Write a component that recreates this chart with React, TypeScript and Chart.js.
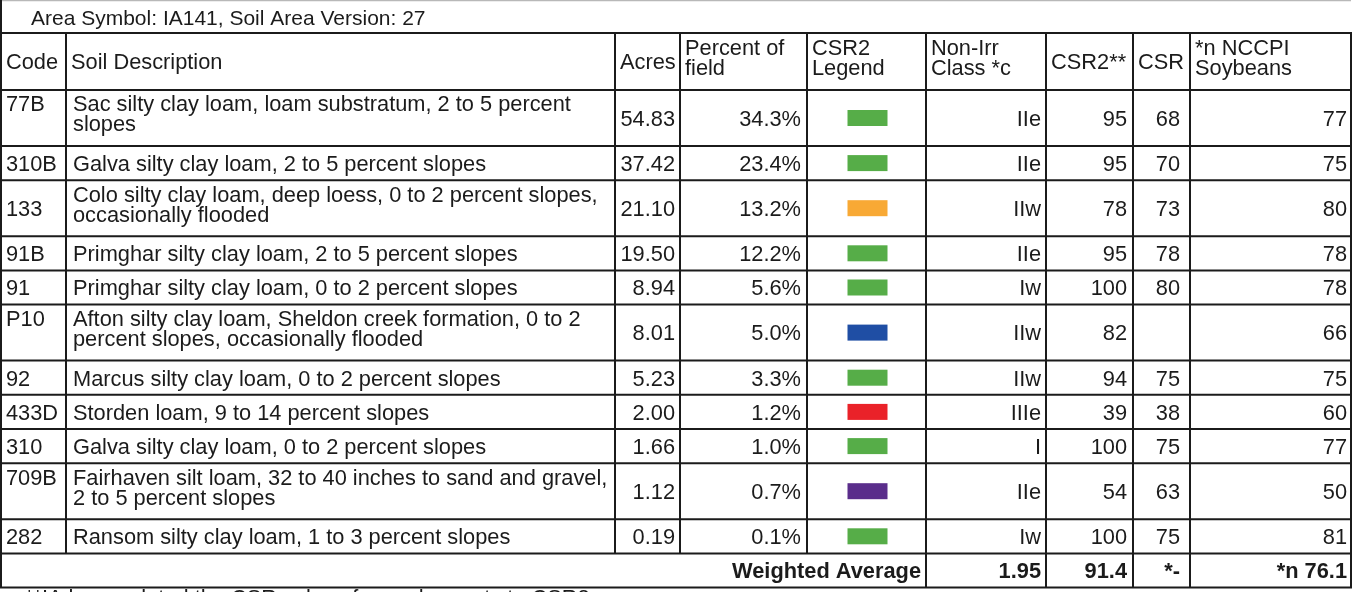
import React, { useEffect, useRef } from "react";
import { Chart, registerables } from "chart.js";

Chart.register(...registerables);

// ---------- data ----------
const title = "Area Symbol: IA141, Soil Area Version: 27";
const headers: string[][] = [
  ["Code"],
  ["Soil Description"],
  ["Acres"],
  ["Percent of", "field"],
  ["CSR2", "Legend"],
  ["Non-Irr", "Class *c"],
  ["CSR2**"],
  ["CSR"],
  ["*n NCCPI", "Soybeans"],
];
const codes = ["77B", "310B", "133", "91B", "91", "P10", "92", "433D", "310", "709B", "282"];
const descriptions: string[][] = [
  ["Sac silty clay loam, loam substratum, 2 to 5 percent", "slopes"],
  ["Galva silty clay loam, 2 to 5 percent slopes"],
  ["Colo silty clay loam, deep loess, 0 to 2 percent slopes,", "occasionally flooded"],
  ["Primghar silty clay loam, 2 to 5 percent slopes"],
  ["Primghar silty clay loam, 0 to 2 percent slopes"],
  ["Afton silty clay loam, Sheldon creek formation, 0 to 2", "percent slopes, occasionally flooded"],
  ["Marcus silty clay loam, 0 to 2 percent slopes"],
  ["Storden loam, 9 to 14 percent slopes"],
  ["Galva silty clay loam, 0 to 2 percent slopes"],
  ["Fairhaven silt loam, 32 to 40 inches to sand and gravel,", "2 to 5 percent slopes"],
  ["Ransom silty clay loam, 1 to 3 percent slopes"],
];
const acres = [54.83, 37.42, 21.1, 19.5, 8.94, 8.01, 5.23, 2.0, 1.66, 1.12, 0.19];
const percentOfField = [34.3, 23.4, 13.2, 12.2, 5.6, 5.0, 3.3, 1.2, 1.0, 0.7, 0.1];
const csr2Legend = ["green", "green", "orange", "green", "green", "blue", "green", "red", "green", "purple", "green"];
const nonIrrClass = ["IIe", "IIe", "IIw", "IIe", "Iw", "IIw", "IIw", "IIIe", "I", "IIe", "Iw"];
const csr2 = [95, 95, 78, 95, 100, 82, 94, 39, 100, 54, 100];
const csr: (number | null)[] = [68, 70, 73, 78, 80, null, 75, 38, 75, 63, 75];
const nccpiSoybeans = [77, 75, 80, 78, 78, 66, 75, 60, 77, 50, 81];
const weightedLabel = "Weighted Average";
const weightedValues = ["1.95", "91.4", "*-", "*n 76.1"];
const footnote = "**IA has updated the CSR values for each county to CSR2.";

// ---------- layout / style ----------
const W = 1353;
const H = 592;
const colEdges = [1, 66, 615, 680, 807, 926, 1046, 1133, 1190, 1351];
const titleH = 33;
const headerH = 57;
const oneLineH = 34.2;
const twoLineH = 56;
const FONT = 21.8;
const TITLE_FONT = 21;
const FAMILY = '"Liberation Sans", Arial, Helvetica, sans-serif';
const INK = "#1b1b1b";
const swatchColors: Record<string, string> = {
  green: "#56ad48",
  orange: "#f8a935",
  blue: "#1f4ea4",
  red: "#ea2229",
  purple: "#5a2d8b",
};
const codeCenteredRows = ["133"];

const tablePlugin = {
  id: "soilTable",
  afterDraw(chart: any) {
    const ctx: CanvasRenderingContext2D = chart.ctx;
    const sx = chart.scales.x;
    const sy = chart.scales.y;
    const px = (v: number) => sx.getPixelForValue(v);
    const py = (v: number) => sy.getPixelForValue(v);

    const text = (
      s: string,
      x: number,
      cy: number,
      align: CanvasTextAlign,
      bold = false,
      size = FONT
    ) => {
      ctx.font = `${bold ? "bold " : ""}${size}px ${FAMILY}`;
      ctx.fillStyle = INK;
      ctx.textAlign = align;
      ctx.textBaseline = "alphabetic";
      ctx.fillText(s, px(x), py(cy) + size * 0.358);
    };
    const lines = (arr: string[], x: number, top: number, h: number, align: CanvasTextAlign) => {
      const c = top + h / 2;
      if (arr.length === 1) text(arr[0], x, c, align);
      else {
        text(arr[0], x, c - 14.5, align);
        text(arr[1], x, c + 5.5, align);
      }
    };

    ctx.save();
    ctx.fillStyle = "#ffffff";
    ctx.fillRect(px(0), py(0), px(W) - px(0), py(H) - py(0));

    const rowTops: number[] = [];
    const rowHs: number[] = [];
    let y = titleH + headerH;
    descriptions.forEach((d) => {
      const h = d.length > 1 ? twoLineH : oneLineH;
      rowTops.push(y);
      rowHs.push(h);
      y += h;
    });
    const waTop = y;
    const waBottom = y + oneLineH;

    text(title, 31, titleH / 2 + 0.5, "left", false, TITLE_FONT);

    headers.forEach((hd, i) => {
      lines(hd, colEdges[i] + 5, titleH, headerH, "left");
    });

    codes.forEach((code, r) => {
      const top = rowTops[r];
      const h = rowHs[r];
      const c = top + h / 2;
      const two = h > 40;
      const codeY = two && !codeCenteredRows.includes(code) ? c - 14.5 : c;
      text(code, colEdges[0] + 5, codeY, "left");
      lines(descriptions[r], colEdges[1] + 7, top, h, "left");
      text(acres[r].toFixed(2), colEdges[3] - 5, c, "right");
      text(percentOfField[r].toFixed(1) + "%", colEdges[4] - 6, c, "right");
      const mid = (colEdges[4] + colEdges[5]) / 2 + 1;
      ctx.fillStyle = swatchColors[csr2Legend[r]];
      ctx.fillRect(px(mid - 20), py(c - 8), px(mid + 20) - px(mid - 20), py(c + 8) - py(c - 8));
      text(nonIrrClass[r], colEdges[6] - 5, c, "right");
      text(String(csr2[r]), colEdges[7] - 6, c, "right");
      if (csr[r] !== null) text(String(csr[r]), colEdges[8] - 10, c, "right");
      text(String(nccpiSoybeans[r]), colEdges[9] - 4, c, "right");
    });

    const wc = (waTop + waBottom) / 2;
    text(weightedLabel, colEdges[5] - 5, wc, "right", true);
    text(weightedValues[0], colEdges[6] - 5, wc, "right", true);
    text(weightedValues[1], colEdges[7] - 6, wc, "right", true);
    text(weightedValues[2], colEdges[8] - 10, wc, "right", true);
    text(weightedValues[3], colEdges[9] - 4, wc, "right", true);

    text(footnote, 25, 597, "left");

    const hline = (yy: number, x0: number, x1: number, color = INK, lw = 2) => {
      ctx.strokeStyle = color;
      ctx.lineWidth = lw;
      ctx.beginPath();
      ctx.moveTo(px(x0), py(yy));
      ctx.lineTo(px(x1), py(yy));
      ctx.stroke();
    };
    const vline = (xx: number, y0: number, y1: number) => {
      ctx.strokeStyle = INK;
      ctx.lineWidth = 2;
      ctx.beginPath();
      ctx.moveTo(px(xx), py(y0));
      ctx.lineTo(px(xx), py(y1));
      ctx.stroke();
    };
    const L = colEdges[0];
    const R = colEdges[colEdges.length - 1];
    hline(0.5, L, R, "#b8b8b8", 1.5);
    vline(L, 0, waBottom);
    hline(titleH, L - 1, R + 1);
    hline(titleH + headerH, L - 1, R + 1);
    rowTops.forEach((t, i) => {
      if (i > 0) hline(t, L - 1, R + 1);
    });
    hline(waTop, L - 1, R + 1);
    hline(waBottom, L - 1, R + 1);
    colEdges.slice(1).forEach((xx, i) => {
      const idx = i + 1;
      if (idx >= 5) vline(xx, titleH, waBottom);
      else vline(xx, titleH, waTop);
    });
    ctx.restore();
  },
};

export default function App() {
  const ref = useRef<HTMLCanvasElement | null>(null);
  useEffect(() => {
    if (!ref.current) return;
    const chart = new Chart(ref.current, {
      type: "scatter",
      data: { datasets: [{ data: [], pointRadius: 0 }] },
      options: {
        animation: false,
        responsive: false,
        layout: { padding: 0 },
        plugins: { legend: { display: false }, tooltip: { enabled: false } },
        scales: {
          x: { type: "linear", min: 0, max: W, display: false },
          y: { type: "linear", min: 0, max: H, reverse: true, display: false },
        },
      },
      plugins: [tablePlugin],
    });
    return () => chart.destroy();
  }, []);
  return (
    <div style={{ position: "absolute", left: 0, top: 0, width: W, height: H, background: "#fff" }}>
      <canvas ref={ref} width={W} height={H} style={{ display: "block" }} />
    </div>
  );
}
